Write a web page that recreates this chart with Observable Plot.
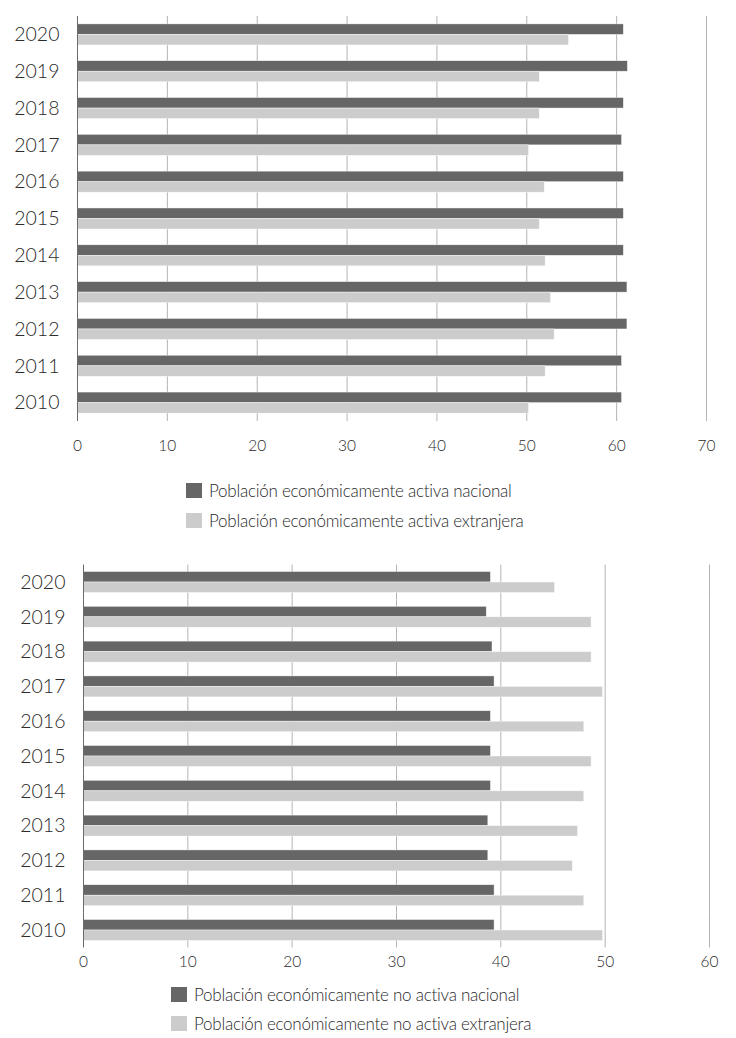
<!DOCTYPE html>
<html>
<head>
<meta charset="utf-8">
<script src="https://cdn.jsdelivr.net/npm/d3@7"></script>
<script src="https://cdn.jsdelivr.net/npm/@observablehq/plot@0.6"></script>
<style>
  body { margin: 0; background: #fff; }
  #root { position: relative; width: 736px; height: 1038px; font-family: Lato, "Open Sans", sans-serif; color: #2a2a2a; }
  .chart { position: absolute; left: 0; }
  .legend { position: absolute; font-size: 17px; font-weight: 300; letter-spacing: -0.25px; }
  .item { display: flex; align-items: center; white-space: nowrap; }
  .sw { width: 16px; height: 15px; margin-right: 7px; flex: none; }
</style>
</head>
<body>
<div id="root"></div>
<script>
const years = ["2020","2019","2018","2017","2016","2015","2014","2013","2012","2011","2010"];

const activaNacional   = [60.8, 61.25, 60.8, 60.6, 60.8, 60.8, 60.8, 61.2, 61.2, 60.6, 60.6];
const activaExtranjera = [54.7, 51.45, 51.45, 50.25, 52.0, 51.45, 52.1, 52.7, 53.1, 52.1, 50.25];

const noActivaNacional   = [39.05, 38.65, 39.2, 39.4, 39.05, 39.05, 39.05, 38.8, 38.8, 39.4, 39.4];
const noActivaExtranjera = [45.2, 48.7, 48.7, 49.8, 48.0, 48.7, 48.0, 47.4, 46.9, 48.0, 49.8];

const ticks1 = [0, 10, 20, 30, 40, 50, 60, 70];
const ticks2 = [0, 10, 20, 30, 40, 50, 60];

const series = ["nacional", "extranjera"];
const colors = ["#666666", "#cccccc"];

const legend1 = ["Población económicamente activa nacional", "Población económicamente activa extranjera"];
const legend2 = ["Población económicamente no activa nacional", "Población económicamente no activa extranjera"];

const root = document.getElementById("root");

function buildRows(nac, ext) {
  const rows = [];
  years.forEach((y, i) => {
    rows.push({year: y, serie: "nacional", value: nac[i]});
    rows.push({year: y, serie: "extranjera", value: ext[i]});
  });
  return rows;
}

function makeChart(opts) {
  const rows = buildRows(opts.nac, opts.ext);
  return Plot.plot({
    width: 736,
    height: opts.height,
    marginTop: opts.fyRange[0],
    marginBottom: opts.height - opts.fyRange[1],
    marginLeft: opts.ml,
    marginRight: opts.mr,
    style: {fontFamily: "Lato, 'Open Sans', sans-serif", color: "#2a2a2a", background: "transparent"},
    x: {domain: [opts.ticks[0], opts.ticks[opts.ticks.length - 1]]},
    fy: {domain: years, padding: 0, round: false, axis: null},
    y: {domain: series, paddingInner: 0, paddingOuter: opts.po, round: false, axis: null},
    color: {domain: series, range: colors},
    marks: [
      Plot.gridX({ticks: opts.ticks, stroke: "#b3b3b3", strokeOpacity: 1, strokeWidth: 1}),
      Plot.barX(rows, {x: "value", y: "serie", fy: "year", fill: "serie", stroke: "#fff", strokeWidth: 0.6, strokeOpacity: 0.7}),
      Plot.ruleX([0], {stroke: "#6a6a6a", strokeWidth: 1}),
      Plot.axisX({ticks: opts.ticks, tickSize: 0, tickPadding: opts.xPad, fontSize: 15.5, fontWeight: 300, fill: "#2a2a2a", label: null}),
      Plot.axisFy({anchor: "left", tickSize: 0, tickPadding: 18, fontSize: 19.5, fontWeight: 300, fill: "#2a2a2a", label: null})
    ]
  });
}

function place(node, top) {
  node.classList.add("chart");
  node.style.top = top + "px";
  root.appendChild(node);
}

function makeLegend(labels, left, top, rowH) {
  const div = document.createElement("div");
  div.className = "legend";
  div.style.left = left + "px";
  div.style.top = top + "px";
  labels.forEach((lab, i) => {
    const it = document.createElement("div");
    it.className = "item";
    it.style.height = rowH + "px";
    const sw = document.createElement("span");
    sw.className = "sw";
    sw.style.background = colors[i];
    const tx = document.createElement("span");
    tx.textContent = lab;
    it.appendChild(sw);
    it.appendChild(tx);
    div.appendChild(it);
  });
  root.appendChild(div);
}

place(makeChart({nac: activaNacional, ext: activaExtranjera, ticks: ticks1,
  height: 460, fyRange: [16, 421], ml: 77, mr: 30, po: 0.75, xPad: 18.5}), 0);
makeLegend(legend1, 186, 475, 30);

place(makeChart({nac: noActivaNacional, ext: noActivaExtranjera, ticks: ticks2,
  height: 432, fyRange: [14.6, 397.4], ml: 83, mr: 27, po: 0.66, xPad: 8.5}), 550);
makeLegend(legend2, 171, 980, 29);
</script>
</body>
</html>
